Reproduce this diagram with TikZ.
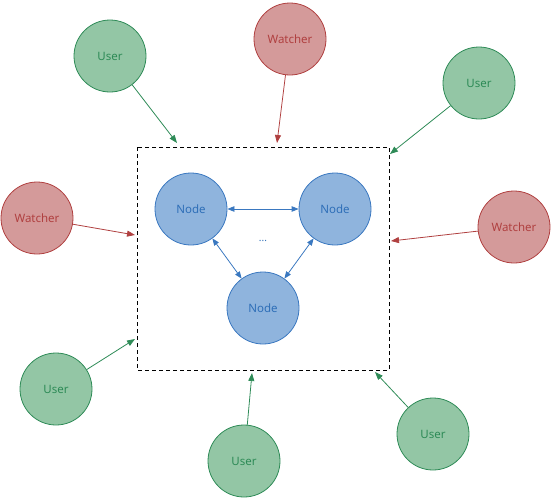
\documentclass[tikz,border=0pt]{standalone}
\usepackage{fontspec}
\setmainfont{Noto Sans}
\usetikzlibrary{arrows.meta}
\definecolor{ufill}{HTML}{93C6A5}
\definecolor{udraw}{HTML}{2E8B57}
\definecolor{utext}{HTML}{2E8B57}
\definecolor{wfill}{HTML}{D49A9A}
\definecolor{wdraw}{HTML}{B04040}
\definecolor{wtext}{HTML}{B04040}
\definecolor{nfill}{HTML}{8FB4DD}
\definecolor{ndraw}{HTML}{3A78C0}
\definecolor{ntext}{HTML}{2F6FB8}
\tikzset{
  base/.style={circle, minimum size=72pt, inner sep=0pt, line width=0.8pt, font=\fontsize{11.5}{13}\selectfont},
  user/.style={base, fill=ufill, draw=udraw, text=utext},
  watcher/.style={base, fill=wfill, draw=wdraw, text=wtext},
  peer/.style={base, fill=nfill, draw=ndraw, text=ntext},
  uarr/.style={draw=udraw, line width=0.8pt, -{Triangle[length=8pt,width=6pt]}},
  warr/.style={draw=wdraw, line width=0.8pt, -{Triangle[length=8pt,width=6pt]}},
  narr/.style={draw=ndraw, line width=0.8pt, {Triangle[length=7pt,width=5.5pt]}-{Triangle[length=7pt,width=5.5pt]}},
}
\begin{document}
\begin{tikzpicture}[x=1pt,y=-1pt]
\useasboundingbox (0,0) rectangle (552,498);
\draw[dashed, line width=0.8pt, dash pattern=on 4pt off 3pt] (137,147) rectangle (389,370);
\node[peer] (n1) at (191,209) {Node};
\node[peer] (n2) at (335,209) {Node};
\node[peer] (n3) at (263,308) {Node};
\node[text=ntext, font=\fontsize{10}{12}\selectfont] (dots) at (263,241) {...};
\draw[narr] (n1) -- (n2);
\draw[narr] (n1) -- (n3);
\draw[narr] (n2) -- (n3);

\node[user] (u1) at (110,56) {User};
\node[watcher] (w1) at (290,39) {Watcher};
\node[user] (u2) at (479,83) {User};
\node[watcher] (w2) at (37,218) {Watcher};
\node[watcher] (w3) at (514,227) {Watcher};
\node[user] (u3) at (56,389) {User};
\node[user] (u4) at (244,461) {User};
\node[user] (u5) at (433,434) {User};

\coordinate (t1) at (177,143);
\coordinate (t2) at (277,143);
\coordinate (t3) at (390,154);
\coordinate (t4) at (135,235);
\coordinate (t5) at (391,241);
\coordinate (t6) at (135,339);
\coordinate (t7) at (252,373);
\coordinate (t8) at (375,372);

\draw[uarr] (u1) -- (t1);
\draw[warr] (w1) -- (t2);
\draw[uarr] (u2) -- (t3);
\draw[warr] (w2) -- (t4);
\draw[warr] (w3) -- (t5);
\draw[uarr] (u3) -- (t6);
\draw[uarr] (u4) -- (t7);
\draw[uarr] (u5) -- (t8);
\end{tikzpicture}
\end{document}
